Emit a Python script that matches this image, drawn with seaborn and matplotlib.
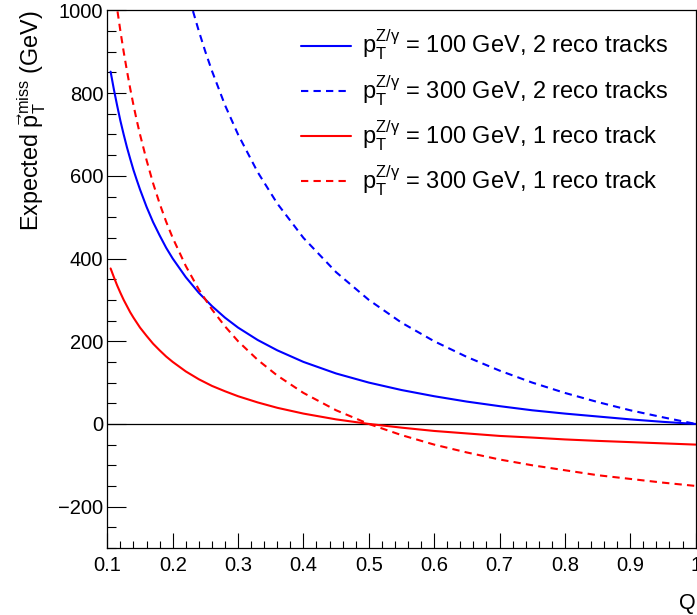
import matplotlib
matplotlib.use("Agg")
import matplotlib.pyplot as plt
import seaborn as sns
import pandas as pd
from matplotlib.ticker import MultipleLocator

# Data
q_common = [0.105, 0.11, 0.115, 0.12, 0.125, 0.13, 0.135, 0.14, 0.145, 0.15, 0.16, 0.17,
            0.18, 0.19, 0.20, 0.22, 0.24, 0.26, 0.28, 0.30, 0.33, 0.36, 0.40, 0.45,
            0.50, 0.55, 0.60, 0.65, 0.70, 0.75, 0.80, 0.85, 0.90, 0.95, 1.00]
blue_100_2trk = [852, 809, 770, 733, 700, 669, 641, 614, 590, 567, 525, 488,
                 456, 426, 400, 355, 317, 285, 257, 233, 203, 178, 150, 122,
                 100, 82, 67, 54, 43, 33, 25, 18, 11, 5, 0]
red_100_1trk = [376, 355, 335, 317, 300, 285, 270, 257, 245, 233, 213, 194,
                178, 163, 150, 127, 108, 92, 79, 67, 52, 39, 25, 11,
                0, -9, -17, -23, -29, -33, -37.5, -41, -44, -47, -50]

q_blue_300 = [0.22, 0.23, 0.24, 0.25, 0.26, 0.28, 0.30, 0.33, 0.36, 0.40, 0.45, 0.50,
              0.55, 0.60, 0.65, 0.70, 0.75, 0.80, 0.85, 0.90, 0.95, 1.00]
blue_300_2trk = [1064, 1004, 950, 900, 854, 771, 700, 609, 533, 450, 367, 300,
                 245, 200, 162, 129, 100, 75, 53, 33, 16, 0]

q_red_300 = [0.11, 0.115, 0.12, 0.125, 0.13, 0.135, 0.14, 0.145, 0.15, 0.16, 0.17, 0.18,
             0.19, 0.20, 0.22, 0.24, 0.26, 0.28, 0.30, 0.33, 0.36, 0.40, 0.45, 0.50,
             0.55, 0.60, 0.65, 0.70, 0.75, 0.80, 0.85, 0.90, 0.95, 1.00]
red_300_1trk = [1064, 1004, 950, 900, 854, 811, 771, 734, 700, 638, 582, 533,
                489, 450, 382, 325, 277, 236, 200, 155, 117, 75, 33, 0,
                -27, -50, -69, -86, -100, -112, -124, -133, -142, -150]

tick_vals = [0.1, 0.2, 0.3, 0.4, 0.5, 0.6, 0.7, 0.8, 0.9, 1.0]
tick_labels = ["0.1", "0.2", "0.3", "0.4", "0.5", "0.6", "0.7", "0.8", "0.9", "1"]

labels = [
    r"$\mathrm{p}_{\mathrm{T}}^{\mathrm{Z/\gamma}}$ = 100 GeV, 2 reco tracks",
    r"$\mathrm{p}_{\mathrm{T}}^{\mathrm{Z/\gamma}}$ = 300 GeV, 2 reco tracks",
    r"$\mathrm{p}_{\mathrm{T}}^{\mathrm{Z/\gamma}}$ = 100 GeV, 1 reco track",
    r"$\mathrm{p}_{\mathrm{T}}^{\mathrm{Z/\gamma}}$ = 300 GeV, 1 reco track",
]

sns.set_theme(style="white")
plt.rcParams['font.family'] = ['Liberation Sans', 'DejaVu Sans']
plt.rcParams['mathtext.fontset'] = 'custom'
plt.rcParams['mathtext.rm'] = 'Liberation Sans'
plt.rcParams['mathtext.it'] = 'Liberation Sans:italic'
plt.rcParams['mathtext.bf'] = 'Liberation Sans:bold'
plt.rcParams['axes.unicode_minus'] = True
plt.rcParams['text.color'] = 'black'
plt.rcParams['axes.labelcolor'] = 'black'
plt.rcParams['xtick.color'] = 'black'
plt.rcParams['ytick.color'] = 'black'

fig = plt.figure(figsize=(6.97, 6.15), dpi=100)
ax = fig.add_axes([0.154, 0.109, 0.844, 0.874])

series = [
    (q_common, blue_100_2trk, "blue", "-"),
    (q_blue_300, blue_300_2trk, "blue", "--"),
    (q_common, red_100_1trk, "red", "-"),
    (q_red_300, red_300_1trk, "red", "--"),
]
lw = 1.5
for (qx, vals, col, ls), lab in zip(series, labels):
    df = pd.DataFrame({"Q": qx, "v": vals})
    sns.lineplot(data=df, x="Q", y="v", ax=ax, color=col, linewidth=lw,
                 label=lab, sort=True, estimator=None)
    line = ax.get_lines()[-1]
    if ls == "--":
        line.set_dashes([3.5, 2.5])

ax.axhline(0, color="black", linewidth=0.9, zorder=1)

ax.set_ylim(-300, 1000)
ax.set_xticks(tick_vals)
ax.set_xticklabels(tick_labels)
ax.xaxis.set_minor_locator(MultipleLocator(0.02))
ax.yaxis.set_major_locator(MultipleLocator(200))
ax.yaxis.set_minor_locator(MultipleLocator(50))
ax.set_xlim(0.1, 1.0)

ax.tick_params(axis="both", which="both", direction="in", colors="black",
               labelsize=14.5, top=False, right=False, bottom=True, left=True)
ax.tick_params(axis="x", which="major", length=10.8, width=0.8, pad=6)
ax.tick_params(axis="x", which="minor", length=5.3, width=0.8)
ax.tick_params(axis="y", which="major", length=13.5, width=0.8, pad=3)
ax.tick_params(axis="y", which="minor", length=6.8, width=0.8)
for s in ax.spines.values():
    s.set_color("black")
    s.set_linewidth(0.9)

ax.set_xlabel("Q", fontsize=15.5)
ax.xaxis.set_label_coords(1.0, -0.083)
ax.xaxis.label.set_ha("right")
ax.set_ylabel(r"Expected $\vec{\mathrm{p}}_{\mathrm{T}}^{\mathrm{miss}}$ (GeV)", fontsize=16.8)
ax.yaxis.set_label_coords(-0.128, 1.0)
ax.yaxis.label.set_ha("right")
ax.yaxis.label.set_va("center")

leg = ax.legend(loc="upper right", bbox_to_anchor=(0.98, 0.996), frameon=False,
                fontsize=17, handlelength=2.1, handletextpad=0.47,
                labelspacing=0.46, borderaxespad=0.25)

fig.savefig("out.png", dpi=100)
